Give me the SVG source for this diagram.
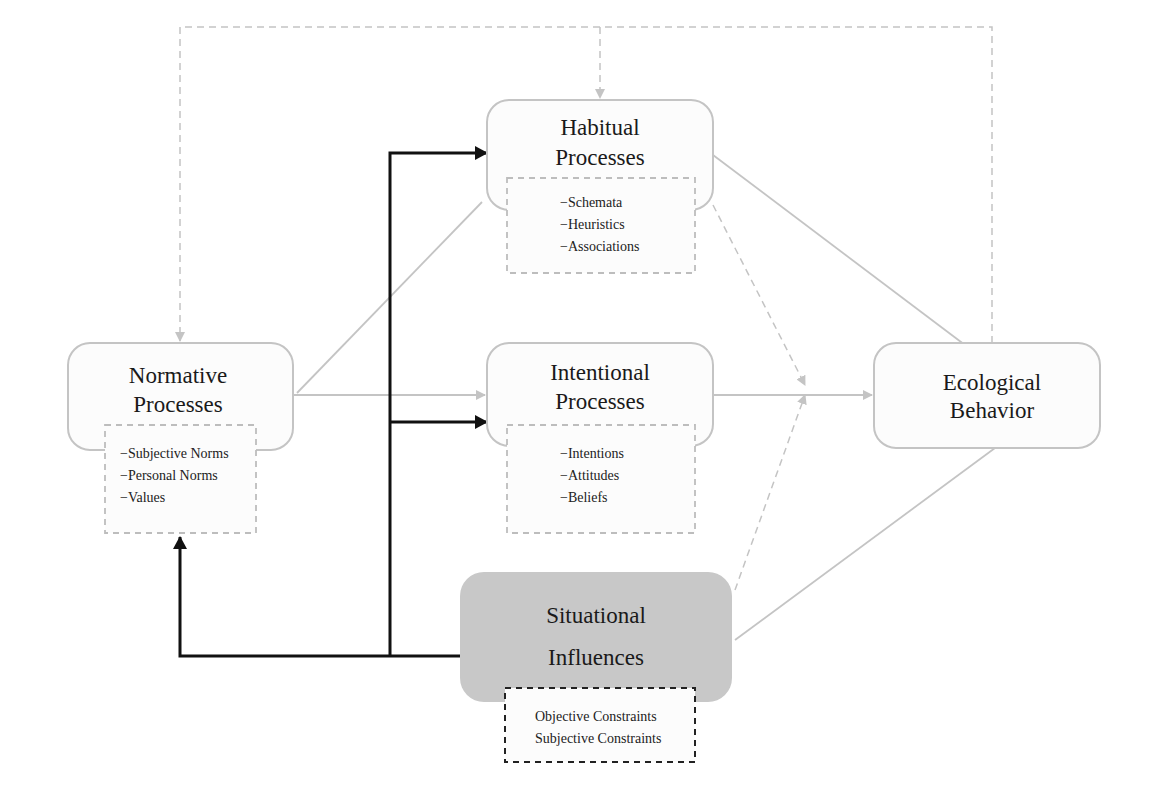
<svg xmlns="http://www.w3.org/2000/svg" width="1150" height="796" viewBox="0 0 1150 796">
<style>
.box{fill:#fcfcfc;stroke:#c4c4c4;stroke-width:2}
.sub{fill:#fcfcfc;stroke:#bdbdbd;stroke-width:1.8;stroke-dasharray:6 5}
.t{font-family:"Liberation Serif",serif;font-size:23px;fill:#1a1a1a;text-anchor:middle}
.s{font-family:"Liberation Serif",serif;font-size:14px;fill:#222}
.g{fill:none;stroke:#c4c4c4;stroke-width:1.8}
.gd{fill:none;stroke:#c4c4c4;stroke-width:1.5;stroke-dasharray:7 5}
.b{fill:none;stroke:#111;stroke-width:3}
</style>
<defs>
<marker id="ga" markerWidth="10" markerHeight="10" refX="9" refY="5" orient="auto" markerUnits="userSpaceOnUse"><path d="M0,0L10,5L0,10Z" fill="#c4c4c4"/></marker>
<marker id="ba" markerWidth="14" markerHeight="14" refX="12" refY="7" orient="auto" markerUnits="userSpaceOnUse"><path d="M0,0L13,7L0,14Z" fill="#111"/></marker>
</defs>
<rect width="1150" height="796" fill="#fff"/>
<g id="connectors">
<path class="gd" d="M992,343V27H180V341" marker-end="url(#ga)"/>
<path class="gd" d="M600,27V98" marker-end="url(#ga)"/>
<path class="g" d="M293,395H485" marker-end="url(#ga)"/>
<path class="g" d="M297,393L482,202"/>
<path class="g" d="M713,395H872" marker-end="url(#ga)"/>
<path class="g" d="M713,155L965,345"/>
<path class="g" d="M735,640L995,448"/>
<path class="gd" d="M713,205L805,385" marker-end="url(#ga)"/>
<path class="gd" d="M735,590L805,395" marker-end="url(#ga)"/>
<path class="b" d="M460,656H180V537" marker-end="url(#ba)"/>
<path class="b" d="M390,656V153H487" marker-end="url(#ba)"/>
<path class="b" d="M390,422H487" marker-end="url(#ba)"/>
</g>
<g id="habitual">
<rect class="box" x="487" y="100" width="226" height="110" rx="22"/>
<text class="t" x="600" y="135">Habitual</text><text class="t" x="600" y="165">Processes</text>
<rect class="sub" x="507" y="178" width="188" height="95"/>
<text class="s" x="560" y="207">−Schemata</text><text class="s" x="560" y="229">−Heuristics</text><text class="s" x="560" y="251">−Associations</text>
</g>
<g id="intentional">
<rect class="box" x="487" y="343" width="226" height="103" rx="22"/>
<text class="t" x="600" y="380">Intentional</text><text class="t" x="600" y="409">Processes</text>
<rect class="sub" x="507" y="425" width="188" height="108"/>
<text class="s" x="560" y="458">−Intentions</text><text class="s" x="560" y="480">−Attitudes</text><text class="s" x="560" y="502">−Beliefs</text>
</g>
<g id="normative">
<rect class="box" x="68" y="343" width="225" height="107" rx="22"/>
<text class="t" x="178" y="383">Normative</text><text class="t" x="178" y="412">Processes</text>
<rect class="sub" x="105" y="425" width="151" height="108"/>
<text class="s" x="120" y="458">−Subjective Norms</text><text class="s" x="120" y="480">−Personal Norms</text><text class="s" x="120" y="502">−Values</text>
</g>
<g id="ecological">
<rect class="box" x="874" y="343" width="226" height="105" rx="22"/>
<text class="t" x="992" y="390">Ecological</text><text class="t" x="992" y="418">Behavior</text>
</g>
<g id="situational">
<rect x="460" y="572" width="272" height="130" rx="24" fill="#c8c8c8"/>
<text class="t" x="596" y="623">Situational</text><text class="t" x="596" y="665">Influences</text>
<rect x="505" y="688" width="190" height="74" fill="#fcfcfc" stroke="#222" stroke-width="2" stroke-dasharray="6 5"/>
<text class="s" x="535" y="721">Objective Constraints</text><text class="s" x="535" y="743">Subjective Constraints</text>
</g>
</svg>
